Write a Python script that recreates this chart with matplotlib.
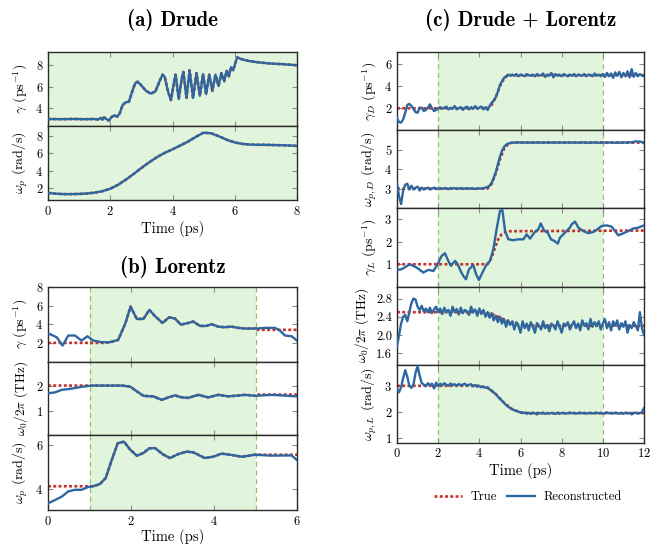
import numpy as np
import matplotlib
matplotlib.use('Agg')
import matplotlib.pyplot as plt
from matplotlib.lines import Line2D

# ---------------- data ----------------
# (a) Drude
t_gamma_a = [0.0, 0.4, 0.8, 1.2, 1.5, 1.6, 1.7, 1.75, 1.8, 1.9, 1.95, 2.05, 2.15, 2.22, 2.3,
             2.4, 2.5, 2.6, 2.7, 2.8, 2.88, 3.0, 3.15, 3.3, 3.45, 3.6, 3.68, 3.75, 3.85, 3.95,
             4.05, 4.1, 4.2, 4.3, 4.35, 4.45, 4.55, 4.66, 4.77, 4.88, 4.98, 5.08, 5.18, 5.28,
             5.38, 5.48, 5.57, 5.66, 5.74, 5.81, 5.88, 5.95, 6.02, 6.08, 6.2, 6.4, 6.6, 6.9,
             7.2, 7.5, 7.8, 8.0]
gamma_a = [3.0, 2.98, 3.0, 2.98, 3.0, 2.95, 3.1, 2.92, 3.15, 2.95, 2.85, 3.2, 3.35, 3.2, 3.5,
           4.3, 4.55, 4.6, 5.5, 6.3, 6.45, 6.1, 5.6, 5.35, 5.55, 6.6, 7.1, 6.9, 5.6, 4.75,
           6.4, 7.1, 4.85, 6.8, 7.35, 4.95, 7.5, 4.95, 7.25, 5.15, 7.15, 5.3, 7.1, 5.6,
           7.1, 6.05, 7.25, 6.5, 7.45, 6.95, 7.8, 7.5, 8.2, 8.7, 8.55, 8.4, 8.3, 8.2,
           8.12, 8.08, 8.02, 7.97]
t_omega_a = [0.0, 0.25, 0.5, 0.75, 1.0, 1.25, 1.5, 1.75, 2.0, 2.25, 2.5, 2.75, 3.0, 3.25, 3.5,
             3.75, 4.0, 4.25, 4.5, 4.75, 5.0, 5.25, 5.5, 5.75, 6.0, 6.25, 6.5, 6.75, 7.0, 7.25,
             7.5, 7.75, 8.0]
omega_p_a = [1.42, 1.33, 1.28, 1.28, 1.3, 1.35, 1.45, 1.62, 1.9, 2.35, 2.95, 3.6, 4.3, 4.95,
             5.55, 6.05, 6.45, 6.9, 7.35, 7.9, 8.38, 8.3, 7.95, 7.55, 7.25, 7.08, 7.0, 6.98,
             6.97, 6.95, 6.93, 6.9, 6.85]

# (b) Lorentz
t_gamma_b = [0.0, 0.21, 0.35, 0.49, 0.65, 0.81, 0.95, 1.09, 1.29, 1.49, 1.69, 1.86, 1.99, 2.14,
             2.3, 2.44, 2.59, 2.76, 2.92, 3.06, 3.2, 3.38, 3.5, 3.66, 3.81, 3.94, 4.1, 4.26,
             4.42, 4.58, 4.75, 5.03, 5.23, 5.47, 5.59, 5.71, 5.87, 6.0]
gamma_b = [3.04, 2.6, 1.71, 2.79, 2.79, 2.25, 2.71, 2.25, 2.07, 2.07, 2.32, 4.04, 5.89, 4.57,
           4.57, 5.54, 4.82, 4.14, 4.75, 4.61, 3.96, 4.14, 4.29, 3.82, 3.82, 4.0, 3.75, 3.68,
           3.75, 3.61, 3.54, 3.54, 3.61, 3.61, 3.32, 2.79, 2.71, 2.25]
t_gamma_b_true = [0.0, 1.35, 1.49, 1.69, 1.86, 1.99, 2.14, 2.3, 2.44, 2.59, 2.76, 2.92, 3.06,
                  3.2, 3.38, 3.5, 3.66, 3.81, 3.94, 4.1, 4.26, 4.42, 4.58, 4.75, 5.0, 5.0, 6.0]
gamma_b_true = [2.0, 2.0, 2.07, 2.32, 4.04, 5.89, 4.57, 4.57, 5.54, 4.82, 4.14, 4.75, 4.61,
                3.96, 4.14, 4.29, 3.82, 3.82, 4.0, 3.75, 3.68, 3.75, 3.61, 3.54, 3.54, 3.4, 3.4]

t_omega0_b = [0.0, 0.17, 0.33, 0.57, 0.81, 1.05, 1.29, 1.53, 1.78, 1.98, 2.14, 2.3, 2.54, 2.74,
              2.9, 3.06, 3.22, 3.38, 3.62, 3.86, 4.1, 4.35, 4.75, 4.99, 5.39, 5.71, 6.0]
omega0_b = [1.69, 1.73, 1.83, 1.88, 1.95, 2.0, 2.0, 2.0, 2.0, 1.96, 1.77, 1.59, 1.57, 1.43,
            1.53, 1.61, 1.53, 1.51, 1.63, 1.53, 1.63, 1.57, 1.63, 1.59, 1.63, 1.6, 1.57]
t_omega0_b_true = [0.0, 1.05, 1.29, 1.53, 1.78, 1.98, 2.14, 2.3, 2.54, 2.74, 2.9, 3.06, 3.22,
                   3.38, 3.62, 3.86, 4.1, 4.35, 4.75, 5.0, 5.0, 6.0]
omega0_b_true = [2.0, 2.0, 2.0, 2.0, 2.0, 1.96, 1.77, 1.59, 1.57, 1.43, 1.53, 1.61, 1.53,
                 1.51, 1.63, 1.53, 1.63, 1.57, 1.63, 1.6, 1.64, 1.64]

t_omega_p_b = [0.0, 0.17, 0.33, 0.49, 0.65, 0.81, 0.97, 1.09, 1.25, 1.39, 1.53, 1.68, 1.83,
               1.98, 2.14, 2.3, 2.44, 2.58, 2.76, 2.94, 3.14, 3.34, 3.5, 3.78, 3.98, 4.18,
               4.43, 4.67, 4.99, 5.39, 5.87, 6.0]
omega_p_b = [3.37, 3.52, 3.67, 3.91, 3.98, 3.98, 4.11, 4.14, 4.24, 4.51, 5.29, 6.08, 6.15,
             5.79, 5.52, 5.64, 5.85, 5.86, 5.59, 5.41, 5.59, 5.7, 5.67, 5.41, 5.47, 5.61,
             5.55, 5.47, 5.56, 5.52, 5.53, 5.32]
t_omega_p_b_true = [0.0, 1.09, 1.25, 1.39, 1.53, 1.68, 1.83, 1.98, 2.14, 2.3, 2.44, 2.58,
                    2.76, 2.94, 3.14, 3.34, 3.5, 3.78, 3.98, 4.18, 4.43, 4.67, 4.99, 5.39, 6.0]
omega_p_b_true = [4.14, 4.14, 4.24, 4.51, 5.29, 6.08, 6.15, 5.79, 5.52, 5.64, 5.85, 5.86,
                  5.59, 5.41, 5.59, 5.7, 5.67, 5.41, 5.47, 5.61, 5.55, 5.47, 5.56, 5.56, 5.56]

# (c) Drude + Lorentz, sampled every 0.1 ps from 0 to 12 ps
gamma_D_c = [1.1, 0.75, 0.7, 1.0, 1.6, 2.3, 2.4, 2.2, 1.95, 1.65, 1.6, 2.05, 2.05, 1.75, 1.85,
             2.05, 2.35, 2.0, 1.75, 1.85, 2.0,
             2.1, 1.95, 2.05, 2.15, 1.9, 2.05, 1.95, 2.2, 1.9, 2.0, 2.1, 1.85, 2.05, 2.15,
             1.9, 2.1, 1.95, 2.2, 1.95, 2.05, 2.15, 1.9, 2.1, 1.85,
             2.2, 2.5, 2.7, 3.0, 3.5, 4.1, 4.45, 4.75, 4.9, 5.05, 4.95,
             5.05, 4.95, 5.1, 4.9, 5.05, 5.0, 4.9, 5.1, 5.0, 4.95, 5.05, 4.9, 5.1, 4.95, 5.0,
             5.15, 4.85, 5.05, 4.95, 5.2, 4.8, 5.1, 4.95, 5.05, 4.9, 5.1, 5.0, 4.9, 5.05,
             4.95, 5.1, 4.9, 5.05, 5.0, 4.95, 5.1, 4.9, 5.05, 5.0, 4.9, 5.15, 4.95, 5.05, 4.9,
             5.1, 4.85, 5.2, 4.9, 5.15, 4.75, 5.25, 4.95, 5.3, 4.8, 5.2, 4.9, 5.35, 4.8, 5.55,
             4.85, 5.2, 4.9, 5.1, 4.95, 4.9]
t_gamma_D_true = [0.0, 4.4, 4.6, 4.8, 5.0, 5.2, 5.4, 12.0]
gamma_D_true = [2.0, 2.0, 2.3, 3.0, 4.0, 4.7, 5.0, 5.0]

omega_pD_c = [3.3, 2.6, 2.2, 2.9, 3.2, 3.25, 2.95, 3.15, 2.95, 3.05, 3.1, 2.9, 3.05, 2.95,
              3.0, 3.05, 2.95, 3.0, 3.05, 2.98, 3.0,
              3.02, 2.98, 3.03, 3.0, 2.97, 3.03, 3.0, 3.02, 2.98, 3.0, 3.03, 2.98, 3.0, 3.02,
              2.99, 3.01, 3.0, 2.98, 3.02, 3.0, 3.01, 3.02, 3.05, 3.08,
              3.15, 3.3, 3.55, 3.85, 4.25, 4.65, 4.95, 5.15, 5.27, 5.33, 5.36,
              5.37, 5.38, 5.38, 5.39, 5.38, 5.37, 5.38, 5.39, 5.38, 5.38,
              5.37, 5.38, 5.39, 5.38, 5.38, 5.37, 5.38, 5.39, 5.38, 5.38,
              5.38, 5.37, 5.39, 5.38, 5.38, 5.38, 5.37, 5.39, 5.38, 5.38,
              5.38, 5.39, 5.37, 5.38, 5.38, 5.39, 5.38, 5.37, 5.38, 5.38,
              5.39, 5.38, 5.37, 5.38, 5.39, 5.38, 5.37, 5.38, 5.39, 5.38,
              5.37, 5.39, 5.38, 5.36, 5.39, 5.38, 5.37, 5.40, 5.38, 5.42,
              5.45, 5.42, 5.44, 5.40, 5.34]
t_omega_pD_true = [0.0, 4.4, 4.6, 4.8, 5.0, 5.2, 5.4, 5.6, 12.0]
omega_pD_true = [3.0, 3.0, 3.25, 3.8, 4.5, 5.05, 5.3, 5.38, 5.38]

t_gamma_L_c = [0.0, 0.23, 0.63, 0.96, 1.28, 1.52, 1.77, 1.93, 2.17, 2.33, 2.49, 2.62, 2.82,
               2.95, 3.09, 3.22, 3.35, 3.5, 3.71, 3.84, 3.98, 4.15, 4.36, 4.52, 4.68, 4.84,
               5.0, 5.12, 5.25, 5.41, 5.65, 5.89, 6.14, 6.3, 6.46, 6.7, 6.87, 6.98, 7.16,
               7.32, 7.48, 7.64, 7.81, 7.92, 8.08, 8.24, 8.4, 8.49, 8.65, 8.81, 9.05, 9.3,
               9.54, 9.7, 9.94, 10.19, 10.43, 10.59, 10.75, 11.0, 11.24, 11.48, 11.72, 12.0]
gamma_L_c = [0.75, 0.78, 1.0, 0.85, 0.63, 0.75, 0.7, 0.93, 1.37, 1.49, 1.15, 0.93, 1.15,
             1.0, 0.7, 0.48, 0.33, 0.78, 0.96, 0.56, 0.3, 0.63, 1.0, 1.15, 1.67, 2.56,
             3.37, 3.41, 2.48, 2.11, 2.07, 2.11, 2.11, 2.33, 2.14, 2.44, 2.56, 2.82, 2.48,
             2.41, 2.11, 2.04, 1.92, 2.19, 2.33, 2.48, 2.63, 2.78, 2.9, 2.63, 2.48, 2.38,
             2.44, 2.53, 2.7, 2.73, 2.67, 2.48, 2.29, 2.38, 2.48, 2.59, 2.63, 2.73]
t_gamma_L_true = [0.0, 4.4, 4.6, 4.76, 4.92, 5.08, 5.33, 12.0]
gamma_L_true = [1.0, 1.0, 1.3, 1.74, 2.11, 2.33, 2.47, 2.5]

omega0_c = [1.75, 2.0, 2.25, 2.4, 2.44, 2.3, 2.5, 2.7, 2.8, 2.78, 2.62, 2.55, 2.64, 2.52,
            2.58, 2.5, 2.6, 2.48, 2.56, 2.62, 2.5,
            2.58, 2.46, 2.6, 2.5, 2.55, 2.42, 2.62, 2.5, 2.57, 2.45, 2.6, 2.48, 2.55, 2.52,
            2.44, 2.62, 2.5, 2.56, 2.42, 2.58, 2.46, 2.55, 2.4, 2.5,
            2.38, 2.48, 2.32, 2.42, 2.28, 2.4, 2.25, 2.35, 2.18, 2.32, 2.22,
            2.3, 2.12, 2.28, 2.2, 2.05, 2.3, 2.15, 2.25, 2.1, 2.28,
            2.18, 2.05, 2.26, 2.2, 2.12, 2.3, 2.15, 2.22, 2.08, 2.25,
            2.2, 2.12, 2.3, 2.18, 2.05, 2.25, 2.2, 2.28, 2.12, 2.22,
            2.3, 2.15, 2.25, 2.1, 2.32, 2.2, 2.26, 2.12, 2.35, 2.18,
            2.28, 2.2, 2.3, 2.12, 2.25, 2.35, 2.15, 2.28, 2.1, 2.3,
            2.2, 2.32, 2.12, 2.26, 2.18, 2.3, 2.05, 2.22, 2.15, 2.28,
            2.2, 2.1, 2.5, 2.15, 2.0]
t_omega0_true = [0.0, 4.2, 4.6, 5.0, 5.4, 5.8, 6.2, 12.0]
omega0_true = [2.5, 2.5, 2.46, 2.38, 2.3, 2.24, 2.2, 2.2]

omega_pL_c = [2.88, 2.75, 2.95, 3.3, 3.6, 3.35, 3.0, 2.92, 3.05, 3.5, 3.75, 3.4, 3.1, 3.05,
              2.98, 3.1, 3.02, 3.08, 2.9, 3.12, 3.0,
              3.08, 3.02, 3.1, 3.04, 3.0, 3.09, 3.03, 3.06, 2.99, 3.07, 3.02, 3.05, 3.08, 3.0,
              3.04, 3.06, 2.98, 3.03, 2.96, 3.0, 2.94, 2.97, 2.92, 2.95,
              2.86, 2.82, 2.74, 2.68, 2.58, 2.5, 2.42, 2.34, 2.26, 2.2, 2.14,
              2.1, 2.06, 2.04, 2.0, 1.98, 1.95, 1.97, 1.93, 1.96, 1.92,
              1.97, 1.94, 1.9, 1.96, 1.93, 1.97, 1.92, 1.95, 1.93, 1.96,
              1.94, 1.92, 1.97, 1.93, 1.95, 1.96, 1.93, 1.95, 1.97, 1.94,
              1.96, 1.93, 1.95, 1.97, 1.94, 1.96, 1.93, 1.95, 1.96, 1.94,
              1.95, 1.97, 1.94, 1.96, 1.93, 1.95, 1.98, 1.94, 1.96, 1.93,
              1.97, 1.95, 1.93, 1.96, 1.92, 1.97, 1.94, 1.96, 1.9, 1.95,
              1.97, 1.93, 1.95, 1.98, 2.15]
t_omega_pL_true = [0.0, 4.0, 4.4, 4.8, 5.2, 5.6, 6.0, 6.4, 12.0]
omega_pL_true = [3.0, 3.0, 2.92, 2.68, 2.35, 2.1, 1.98, 1.95, 1.95]

# shaded (training) windows
shade_a = (0, 8)
shade_b = (1, 5)
shade_c = (2, 10)

# ---------------- style ----------------
plt.rcParams.update({
    'font.family': 'cmr10',
    'mathtext.fontset': 'cm',
    'axes.formatter.use_mathtext': True,
    'axes.unicode_minus': False,
    'xtick.direction': 'in', 'ytick.direction': 'in',
    'xtick.top': True, 'ytick.right': True,
    'xtick.major.size': 3.5, 'ytick.major.size': 3.5,
    'xtick.color': '#8a8a8a', 'ytick.color': '#8a8a8a',
    'xtick.labelcolor': 'black', 'ytick.labelcolor': 'black',
    'xtick.labelsize': 9, 'ytick.labelsize': 9,
    'axes.linewidth': 1.0, 'axes.edgecolor': '#2a2a2a',
})

BLUE = '#2e67a0'
RED = '#c4302b'
GREEN_FILL = '#e1f5dc'
GREEN_LINE = '#8cc46e'
TRUE_STYLE = (0, (1.1, 0.9))

fig = plt.figure(figsize=(6.57, 5.44), dpi=100)
W, H = 657.0, 544.0


def make_axes(left, right, edges):
    axs = []
    for top, bot in zip(edges[:-1], edges[1:]):
        axs.append(fig.add_axes([left / W, 1 - bot / H, (right - left) / W, (bot - top) / H]))
    return axs


def style_ax(ax, xlim, xticks, ylim, yticks, ylabel, shade, dashed, show_x,
             ylabel_size=10, xlabel_pad=2):
    ax.set_xlim(*xlim)
    ax.set_ylim(*ylim)
    ax.set_xticks(xticks)
    ax.set_yticks(yticks)
    ax.axvspan(shade[0], shade[1], color=GREEN_FILL, zorder=0, lw=0)
    if dashed:
        for xv in shade:
            ax.axvline(xv, color=GREEN_LINE, lw=0.9, ls=(0, (4, 3)), zorder=1)
    ax.set_ylabel(ylabel, fontsize=ylabel_size, labelpad=4)
    if not show_x:
        ax.tick_params(labelbottom=False)
    else:
        ax.set_xlabel('Time (ps)', fontsize=10.5, labelpad=xlabel_pad)


def draw(ax, t, y, tt, yt):
    ax.plot(tt, yt, color=RED, lw=1.9, ls=TRUE_STYLE, zorder=2)
    ax.plot(t, y, color=BLUE, lw=1.7, zorder=3, solid_joinstyle='round')


# (a) Drude
ax_a = make_axes(48, 297, [52, 126, 200])
draw(ax_a[0], t_gamma_a, gamma_a, t_gamma_a, gamma_a)
style_ax(ax_a[0], (0, 8), [0, 2, 4, 6, 8], (2.35, 9.2), [4, 6, 8],
         r'$\gamma$ (ps$^{-1}$)', shade_a, False, False)
draw(ax_a[1], t_omega_a, omega_p_a, t_omega_a, omega_p_a)
style_ax(ax_a[1], (0, 8), [0, 2, 4, 6, 8], (0.6, 9.15), [2, 4, 6, 8],
         r'$\omega_p$ (rad/s)', shade_a, False, True)

# (b) Lorentz
ax_b = make_axes(48, 297, [287, 361.5, 435, 510])
draw(ax_b[0], t_gamma_b, gamma_b, t_gamma_b_true, gamma_b_true)
style_ax(ax_b[0], (0, 6), [0, 2, 4, 6], (0, 8), [2, 4, 6, 8],
         r'$\gamma$ (ps$^{-1}$)', shade_b, True, False)
draw(ax_b[1], t_omega0_b, omega0_b, t_omega0_b_true, omega0_b_true)
style_ax(ax_b[1], (0, 6), [0, 2, 4, 6], (0.03, 2.96), [1, 2],
         r'$\omega_0/2\pi$ (THz)', shade_b, True, False, ylabel_size=9.5)
draw(ax_b[2], t_omega_p_b, omega_p_b, t_omega_p_b_true, omega_p_b_true)
style_ax(ax_b[2], (0, 6), [0, 2, 4, 6], (3.07, 6.45), [4, 6],
         r'$\omega_p$ (rad/s)', shade_b, True, True, xlabel_pad=0.5)

# (c) Drude + Lorentz
ax_c = make_axes(397, 644, [52, 130, 208.3, 286.7, 365, 442.5])
xt_c = [0, 2, 4, 6, 8, 10, 12]
draw(ax_c[0], np.linspace(0, 12, len(gamma_D_c)), gamma_D_c, t_gamma_D_true, gamma_D_true)
style_ax(ax_c[0], (0, 12), xt_c, (0.03, 7.1), [2, 4, 6],
         r'$\gamma_D$ (ps$^{-1}$)', shade_c, True, False)
draw(ax_c[1], np.linspace(0, 12, len(omega_pD_c)), omega_pD_c, t_omega_pD_true, omega_pD_true)
style_ax(ax_c[1], (0, 12), xt_c, (1.98, 6.03), [3, 4, 5],
         r'$\omega_{p,D}$ (rad/s)', shade_c, True, False)
draw(ax_c[2], t_gamma_L_c, gamma_L_c, t_gamma_L_true, gamma_L_true)
style_ax(ax_c[2], (0, 12), xt_c, (0.0, 3.49), [1, 2, 3],
         r'$\gamma_L$ (ps$^{-1}$)', shade_c, True, False)
draw(ax_c[3], np.linspace(0, 12, len(omega0_c)), omega0_c, t_omega0_true, omega0_true)
style_ax(ax_c[3], (0, 12), xt_c, (1.34, 3.06), [1.6, 2.0, 2.4, 2.8],
         r'$\omega_0/2\pi$ (THz)', shade_c, True, False, ylabel_size=9.5)
ax_c[3].set_yticklabels(['1.6', '2.0', '2.4', '2.8'])
draw(ax_c[4], np.linspace(0, 12, len(omega_pL_c)), omega_pL_c, t_omega_pL_true, omega_pL_true)
style_ax(ax_c[4], (0, 12), xt_c, (0.82, 3.8), [1, 2, 3],
         r'$\omega_{p,L}$ (rad/s)', shade_c, True, True)

# titles
fig.text(172.5 / W, 1 - 20 / H, '(a) Drude', ha='center', va='center',
         fontsize=15, family='cmb10')
fig.text(172.5 / W, 1 - 267 / H, '(b) Lorentz', ha='center', va='center',
         fontsize=15, family='cmb10')
fig.text(520.5 / W, 1 - 20 / H, r'(c) Drude + Lorentz', ha='center', va='center',
         fontsize=15, family='cmb10')

# legend
handles = [Line2D([], [], color=RED, lw=1.9, ls=TRUE_STYLE),
           Line2D([], [], color=BLUE, lw=1.7)]
fig.legend(handles, ['True', 'Reconstructed'], loc='center',
           bbox_to_anchor=(528 / W, 1 - 497 / H), ncol=2, frameon=False,
           fontsize=9, handlelength=2.2, columnspacing=0.8, handletextpad=0.7)

fig.savefig('out.png', dpi=100)
